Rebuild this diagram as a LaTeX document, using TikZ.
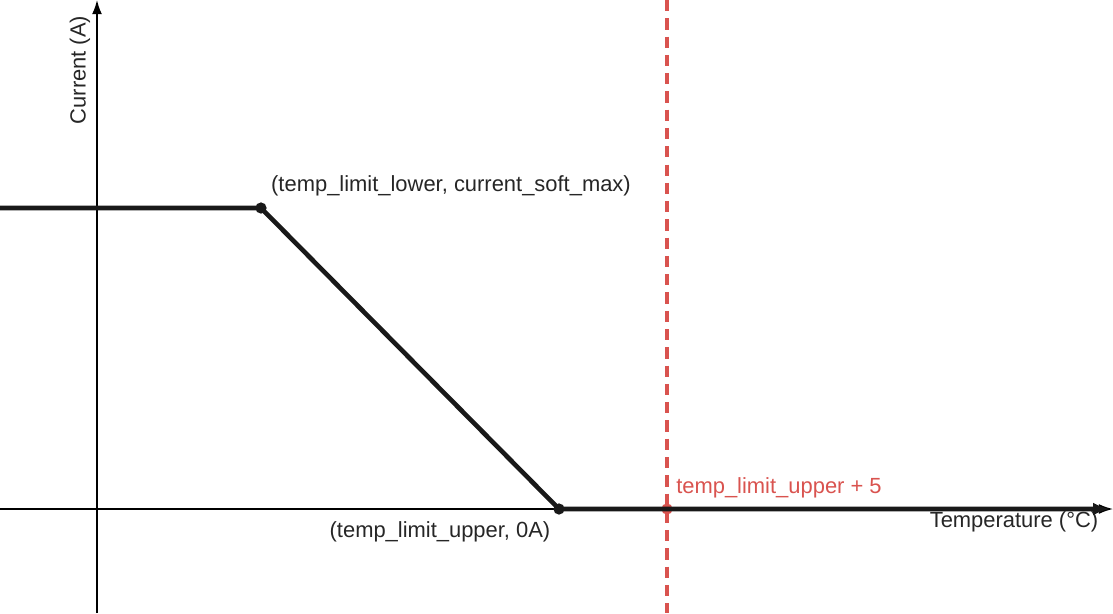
\documentclass[tikz,border=0pt]{standalone}
\usepackage{fontspec}
\setmainfont{Liberation Sans}
\usetikzlibrary{arrows.meta}
\definecolor{limitred}{HTML}{D9534F}
\begin{document}
\begin{tikzpicture}[x=0.025cm,y=-0.025cm,
        axis line/.style={draw=black,line width=1.1pt,-{Latex[length=10pt,width=7pt]}},
        curve line/.style={draw=black!90,line width=3.3pt},
        dot/.style={circle,fill=black!90,inner sep=0pt,minimum size=8pt},
        label text/.style={font=\fontsize{15.6}{18}\selectfont,text=black!85}
      ]
      \useasboundingbox (0,0) rectangle (1113,613);
      % axes
      \coordinate (ybot) at (97,613);
      \coordinate (ytop) at (97,0);
      \coordinate (xleft) at (0,509);
      \coordinate (xright) at (1113,509);
      \path[axis line] (ybot) -- (ytop);
      \path[axis line] (xleft) -- (xright);
      \node[label text,rotate=90] (ylab) at (80,70) {Current (A)};
      \node[label text] (xlab) at (1014,522) {Temperature (°C)};

      % limit line
      \coordinate (rtop) at (667,0);
      \coordinate (rbot) at (667,613);
      \draw[limitred,line width=2.2pt,dash pattern=on 8pt off 5pt] (rtop) -- (rbot);

      % derating curve
      \coordinate (start) at (0,208);
      \node[dot] (lower) at (261,208) {};
      \node[dot] (upper) at (559,509) {};
      \node[dot,fill=limitred] (plus) at (667,509) {};
      \coordinate (end) at (1110,509);
      \path[curve line,-{Latex[length=12pt,width=9pt]}] (start) -- (lower.center) -- (upper.center) -- (end);

      \node[label text] (lowerlab) at (451,186) {(temp\_limit\_lower, current\_soft\_max)};
      \node[label text] (upperlab) at (440,532) {(temp\_limit\_upper, 0A)};
      \node[label text,text=limitred] (pluslab) at (779,488) {temp\_limit\_upper + 5};
    \end{tikzpicture}
\end{document}
